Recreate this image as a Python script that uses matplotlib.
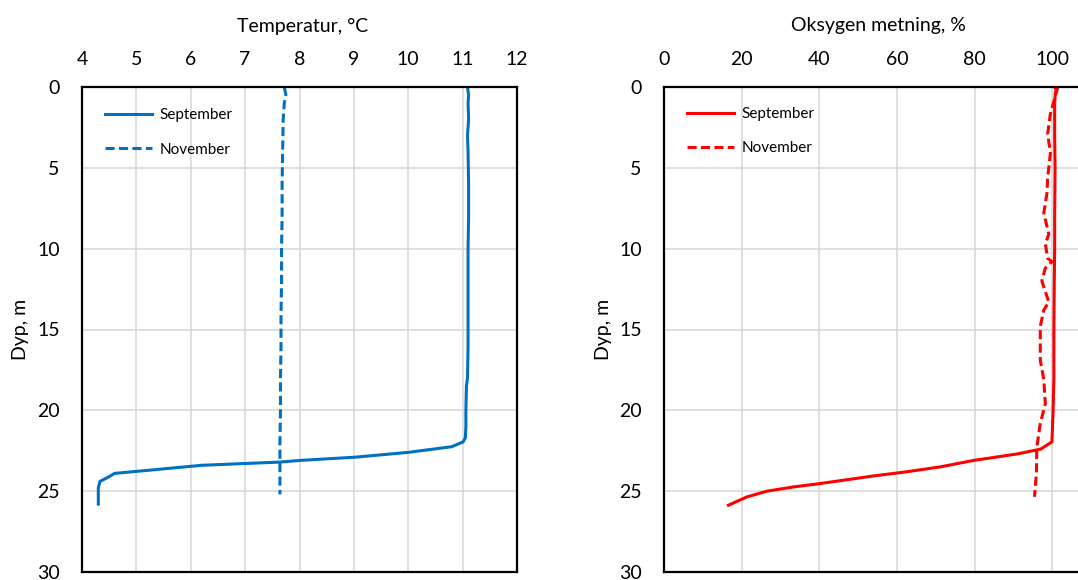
import numpy as np
import matplotlib
matplotlib.use("Agg")
import matplotlib.pyplot as plt

plt.rcParams['font.family'] = ['Lato', 'DejaVu Sans']

# Temperatur, September
temp_sep_depth = [0, 0.5, 1, 2, 3, 4, 6, 8, 10, 12, 14, 16, 18, 18.5, 20, 21, 21.7, 21.95, 22.25,
                  22.6, 22.9, 23.1, 23.2, 23.4, 23.7, 23.9, 24.1, 24.4, 24.8, 25.3, 25.8]
temp_sep = [11.09, 11.11, 11.10, 11.11, 11.09, 11.10, 11.11, 11.11, 11.10, 11.10, 11.10, 11.10, 11.09,
            11.07, 11.06, 11.06, 11.05, 11.01, 10.80, 10.0, 9.02, 8.0, 7.64, 6.2, 5.25, 4.6, 4.5,
            4.33, 4.3, 4.3, 4.3]

# Temperatur, November
temp_nov_depth = [0, 0.5, 1, 2, 4, 6, 8, 10, 12, 14, 16, 18, 20, 22, 24, 25.2]
temp_nov = [7.72, 7.75, 7.72, 7.70, 7.69, 7.68, 7.68, 7.67, 7.67, 7.66, 7.66, 7.65, 7.65, 7.64, 7.64, 7.64]

# Oksygen metning, September
oxy_sep_depth = [0, 0.3, 1, 3, 5, 8, 10, 12, 15, 18, 20, 21.95, 22.4, 22.7, 23.1, 23.5, 23.8,
                 24.06, 24.53, 24.74, 25.0, 25.36, 25.87]
oxy_sep = [101.5, 100.8, 100.6, 100.6, 100.7, 100.6, 100.6, 100.5, 100.4, 100.4, 100.2, 99.9, 97.0,
           90.9, 79.7, 71.1, 62.5, 53.9, 40.2, 33.3, 26.5, 21.3, 16.6]

# Oksygen metning, November
oxy_nov_depth = [0, 0.2, 1.65, 2.9, 4.1, 5.6, 6.6, 7.8, 9.1, 9.7, 10.6, 10.8, 11.2, 12.0, 13.3,
                 13.8, 14.8, 16.9, 18.1, 19.6, 20.8, 22.3, 23.9, 25.35]
oxy_nov = [100.5, 101.2, 99.5, 98.8, 99.5, 98.8, 98.6, 97.8, 99.1, 98.2, 98.8, 99.9, 98.2, 97.3,
           99.1, 97.8, 96.9, 96.9, 97.8, 98.2, 96.9, 96.0, 95.9, 95.4]

depth_ticks = [0, 5, 10, 15, 20, 25, 30]
temp_ticks = [4, 5, 6, 7, 8, 9, 10, 11, 12]
oxy_ticks = [0, 20, 40, 60, 80, 100, 120]

W, H = 1078, 580
fig = plt.figure(figsize=(W / 100, H / 100), dpi=100)
ax1 = fig.add_axes([82 / W, 8 / H, 435 / W, 485 / H])
ax2 = fig.add_axes([664 / W, 8 / H, 466 / W, 485 / H])

dash = (0, (3, 1.4))
lw = 2.2


def style(ax, xticks, xlabel, title_x, ylab_x):
    ax.set_ylim(30, 0)
    ax.set_xlim(xticks[0], xticks[-1])
    ax.set_xticks(xticks)
    ax.set_yticks(depth_ticks)
    ax.xaxis.tick_top()
    ax.xaxis.set_label_position('top')
    ax.set_xlabel(xlabel, fontsize=14)
    ax.xaxis.set_label_coords(title_x, 1 + 61 / 485)
    ax.xaxis.label.set_verticalalignment('center')
    ax.set_ylabel('Dyp, m', fontsize=14)
    ax.yaxis.set_label_coords(ylab_x, 0.5)
    ax.yaxis.label.set_verticalalignment('center')
    ax.tick_params(length=0, labelsize=14)
    ax.tick_params(axis='x', pad=14)
    ax.tick_params(axis='y', pad=16)
    ax.grid(True, color='#d9d9d9', lw=1.2)
    ax.set_axisbelow(True)
    for s in ax.spines.values():
        s.set_linewidth(1.6)
        s.set_color('black')


style(ax1, temp_ticks, 'Temperatur, °C', (303 - 82) / 435, (21 - 82) / 435)
ax1.plot(temp_sep, temp_sep_depth, color='#0070C0', lw=lw, label='September')
ax1.plot(temp_nov, temp_nov_depth, color='#0070C0', lw=lw, ls=dash, label='November')

style(ax2, oxy_ticks, 'Oksygen metning, %', (878 - 664) / 466, (603 - 664) / 466)
# 120 lies outside the picture in the reference
ax2.set_xticklabels([str(t) if t < 120 else '' for t in oxy_ticks])
ax2.plot(oxy_sep, oxy_sep_depth, color='#FF0000', lw=lw, label='September')
ax2.plot(oxy_nov, oxy_nov_depth, color='#FF0000', lw=lw, ls=dash, label='November')

ax1.legend(loc='upper left', bbox_to_anchor=((105 - 82) / 435, 1 - 21 / 485), frameon=False,
           fontsize=11, handlelength=3.1, handletextpad=0.45, labelspacing=1.35,
           borderpad=0, borderaxespad=0)
ax2.legend(loc='upper left', bbox_to_anchor=((687 - 664) / 466, 1 - 20 / 485), frameon=False,
           fontsize=11, handlelength=3.1, handletextpad=0.45, labelspacing=1.3,
           borderpad=0, borderaxespad=0)

fig.savefig('out.png', dpi=100)
